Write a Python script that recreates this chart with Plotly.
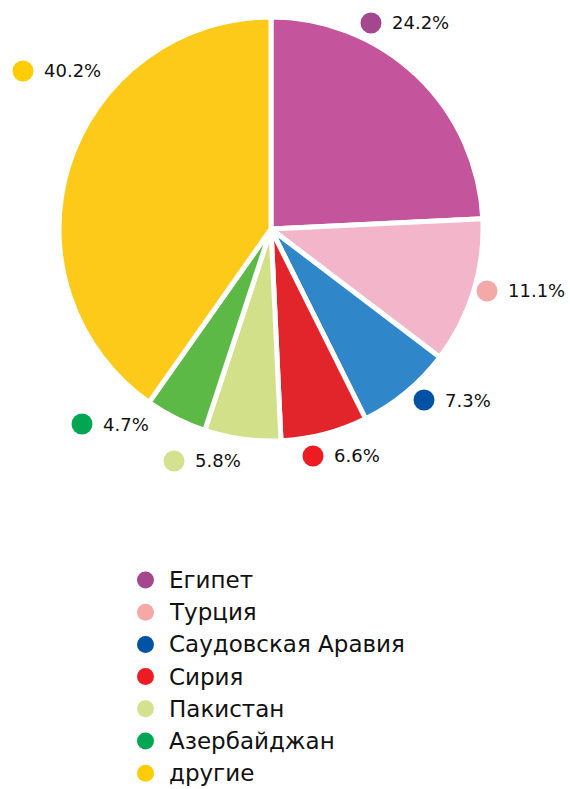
import plotly.graph_objects as go

# ------------------------------------------------------------
# data
# ------------------------------------------------------------
countries = ['Египет', 'Турция', 'Саудовская Аравия', 'Сирия',
             'Пакистан', 'Азербайджан', 'другие']
shares = [24.2, 11.1, 7.3, 6.6, 5.8, 4.7, 40.2]

# ------------------------------------------------------------
# styles / layout helpers
# ------------------------------------------------------------
slice_colors = ['#c4549c', '#f3b5c9', '#2f86c8', '#e2242b',
                '#d2e08a', '#5cb946', '#fdca1a']
dot_colors = ['#a4478e', '#f4a9a8', '#0053a4', '#ed1c24',
              '#d4e28f', '#00a651', '#ffcc00']

# label dot centres in pixels (x, y from top)
label_px = [(371, 23), (487, 291), (424, 400), (313, 456),
            (174, 461), (82, 424), (23, 71)]

W, H = 570, 789
FONT = 'DejaVu Sans'
CX, CY, R = 271, 229, 212

# legend block: dot column x, first row y, row step (pixels)
LEG_X, LEG_Y0, LEG_DY = 145.5, 580, 32.2


def px_x(v):
    return v / W


def px_y(v):
    return 1 - v / H


def dot(x, y, d, col):
    fig.add_shape(
        type='circle',
        xref='paper', yref='paper',
        xsizemode='pixel', ysizemode='pixel',
        xanchor=px_x(x), yanchor=px_y(y),
        x0=-d / 2, x1=d / 2, y0=-d / 2, y1=d / 2,
        fillcolor=col, line=dict(width=0),
    )


def label(x, y, text, size):
    fig.add_annotation(
        x=px_x(x), y=px_y(y),
        xref='paper', yref='paper',
        xanchor='left', yanchor='middle',
        text=text,
        showarrow=False,
        font=dict(family=FONT, size=size, color='#111111'),
    )


fig = go.Figure()

fig.add_trace(go.Pie(
    labels=countries,
    values=shares,
    sort=False,
    direction='clockwise',
    rotation=0,
    marker=dict(colors=slice_colors, line=dict(color='white', width=5)),
    textinfo='none',
    hoverinfo='label+percent',
    showlegend=False,
    domain=dict(x=[px_x(CX - R), px_x(CX + R)], y=[px_y(CY + R), px_y(CY - R)]),
))

# percentage labels with coloured dots
for v, col, (lx, ly) in zip(shares, dot_colors, label_px):
    dot(lx, ly, 21, col)
    label(lx + 19, ly, f'{v:.1f}%', 18)

# legend (drawn by hand so the row spacing matches)
for i, (name, col) in enumerate(zip(countries, dot_colors)):
    y = LEG_Y0 + i * LEG_DY
    dot(LEG_X, y, 17, col)
    label(LEG_X + 21, y, name, 23)

fig.update_layout(
    width=W, height=H,
    margin=dict(l=0, r=0, t=0, b=0),
    paper_bgcolor='white',
    plot_bgcolor='white',
    font=dict(family=FONT, size=18, color='#111111'),
    showlegend=False,
)

# page body has a default 8px margin; drop it so the chart sits at (0, 0)
fig.write_html('out.html', config={'displayModeBar': False},
               post_script="document.body.style.margin='0';")
